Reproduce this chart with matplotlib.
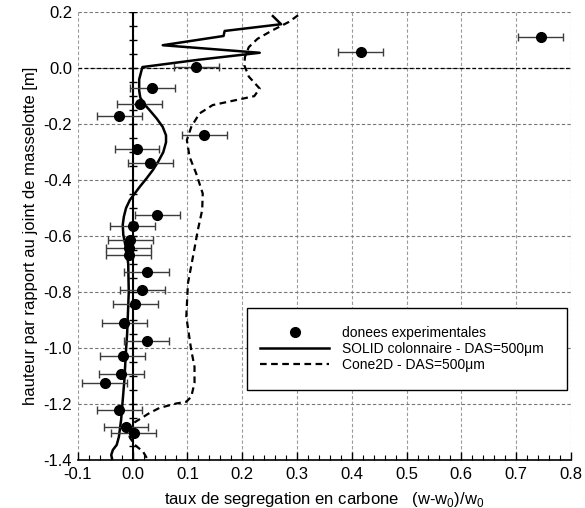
import numpy as np
import matplotlib
matplotlib.use("Agg")
import matplotlib.pyplot as plt
from matplotlib.patches import Rectangle
from matplotlib.lines import Line2D
from matplotlib.ticker import MultipleLocator

plt.rcParams['font.family'] = ['Liberation Sans', 'DejaVu Sans']
plt.rcParams['axes.unicode_minus'] = False
plt.rcParams['mathtext.fontset'] = 'custom'
plt.rcParams['mathtext.rm'] = 'Liberation Sans'

# Experimental data
exp_x = [0.116, 0.036, 0.013, -0.024, 0.131, 0.008, 0.032, 0.045, 0.000, -0.004,
         -0.007, -0.007, 0.026, 0.018, 0.005, -0.015, 0.026, -0.018, -0.021, -0.051,
         -0.024, -0.012, 0.002, 0.416, 0.745]
exp_y = [0.005, -0.070, -0.129, -0.171, -0.239, -0.290, -0.340, -0.523, -0.564, -0.614,
         -0.644, -0.668, -0.730, -0.793, -0.843, -0.910, -0.974, -1.029, -1.094, -1.124,
         -1.221, -1.281, -1.302, 0.056, 0.110]
exp_err = [0.041] * len(exp_x)

# SOLID colonnaire
solid_x = [0.256, 0.271, 0.168, 0.166, 0.055, 0.232, 0.120, 0.018, 0.016, 0.012,
           0.012, 0.014, 0.021, 0.031, 0.044, 0.055, 0.061, 0.061, 0.056, 0.047,
           0.037, 0.025, 0.013, 0.003, -0.005, -0.012, -0.016, -0.018, -0.017,
           -0.014, -0.011, -0.008, -0.007, -0.010, -0.012, -0.015, -0.018, -0.021,
           -0.025, -0.029, -0.036, -0.039, -0.037]
solid_y = [0.186, 0.157, 0.133, 0.115, 0.082, 0.055, 0.030, 0.004, -0.010, -0.040,
           -0.080, -0.105, -0.128, -0.150, -0.180, -0.210, -0.240, -0.265, -0.300, -0.333,
           -0.364, -0.395, -0.424, -0.450, -0.471, -0.500, -0.531, -0.560, -0.595,
           -0.625, -0.650, -0.700, -0.800, -0.950, -1.007, -1.114, -1.186, -1.257,
           -1.317, -1.346, -1.364, -1.382, -1.400]

# Cone2D
cone_x = [0.302, 0.285, 0.255, 0.228, 0.212, 0.205, 0.204, 0.212, 0.232, 0.222,
          0.146, 0.122, 0.107, 0.099, 0.104, 0.116, 0.128, 0.127, 0.119, 0.113,
          0.101, 0.098, 0.107, 0.113, 0.113, 0.107, 0.098, 0.080, 0.049, 0.031,
          0.013, 0.000, -0.008, -0.005, 0.004, 0.019, 0.028]
cone_y = [0.189, 0.165, 0.135, 0.105, 0.075, 0.040, 0.010, -0.030, -0.073, -0.100,
          -0.132, -0.162, -0.210, -0.257, -0.317, -0.376, -0.448, -0.507, -0.579, -0.644,
          -0.769, -0.888, -1.007, -1.067, -1.125, -1.174, -1.192, -1.198, -1.214, -1.232,
          -1.254, -1.270, -1.290, -1.320, -1.346, -1.370, -1.400]

x_ticks = [-0.1, 0.0, 0.1, 0.2, 0.3, 0.4, 0.5, 0.6, 0.7, 0.8]
y_ticks = [-1.4, -1.2, -1.0, -0.8, -0.6, -0.4, -0.2, 0.0, 0.2]

fig = plt.figure(figsize=(5.85, 5.08), dpi=100)
ax = fig.add_axes([0.133, 0.0945, 0.843, 0.8815])
ax.set_xlim(-0.1, 0.8)
ax.set_ylim(-1.4, 0.2)

for s in ['top', 'left', 'right']:
    ax.spines[s].set_visible(False)
ax.spines['bottom'].set_linewidth(1.2)

ax.set_xticks(x_ticks)
ax.set_xticklabels([f"{t:.1f}" for t in x_ticks])
ax.set_yticks(y_ticks)
ax.set_yticklabels([f"{t:.1f}" for t in y_ticks])
ax.xaxis.set_minor_locator(MultipleLocator(0.02))
ax.tick_params(axis='x', which='major', direction='in', length=6, width=1, labelsize=12, pad=5)
ax.tick_params(axis='x', which='minor', direction='in', length=3.5, width=0.8)
ax.tick_params(axis='y', which='major', length=0, labelsize=12, pad=4)

ax.xaxis.grid(True, which='major', linestyle=(0, (3, 2)), color='#9a9a9a', linewidth=0.8)
ax.yaxis.grid(True, which='major', linestyle=(0, (3, 2)), color='#777777', linewidth=0.8)
ax.set_axisbelow(True)
ax.axhline(0.0, linestyle=(0, (3, 2)), color='black', linewidth=0.9, zorder=1)

# zero axis with ticks
ax.axvline(0.0, color='black', linewidth=1.5, zorder=2)
zt = np.arange(-1.4, 0.2001, 0.05)
ax.plot(np.zeros_like(zt), zt, linestyle='none', marker='_', markersize=6,
        markeredgewidth=1.0, color='black', zorder=2)

ax.plot(solid_x, solid_y, color='black', linewidth=1.8, zorder=4, solid_joinstyle='round')
ax.plot(cone_x, cone_y, color='black', linewidth=1.6, linestyle=(0, (3.0, 2.0)), zorder=4)
ax.errorbar(exp_x, exp_y, xerr=exp_err, fmt='o', color='black', markersize=7,
            ecolor='#3c3c3c', elinewidth=1.0, capsize=3, capthick=1.0, zorder=5)

ax.set_xlabel(r'taux de segregation en carbone   (w-w$_{\mathregular{0}}$)/w$_{\mathregular{0}}$',
              fontsize=12, labelpad=6)
ax.set_ylabel('hauteur par rapport au joint de masselotte [m]', fontsize=12, labelpad=4)

# legend box
ax.add_patch(Rectangle((0.343, 0.156), 0.649, 0.183, transform=ax.transAxes,
                       facecolor='white', edgecolor='black', linewidth=1.0, zorder=6))
handles = [
    Line2D([], [], linestyle='none', marker='o', markersize=7, color='black'),
    Line2D([], [], color='black', linewidth=1.8),
    Line2D([], [], color='black', linewidth=1.6, linestyle=(0, (3.0, 2.0))),
]
labels = ['donees experimentales', 'SOLID colonnaire - DAS=500\u03bcm',
          'Cone2D - DAS=500\u03bcm']
leg = ax.legend(handles, labels, loc='upper left',
                bbox_to_anchor=(0.369, 0.300), frameon=False, fontsize=10,
                handlelength=5.0, handletextpad=0.9, labelspacing=0.15,
                borderpad=0, borderaxespad=0)
leg.set_zorder(7)

fig.savefig('out.png', dpi=100)
